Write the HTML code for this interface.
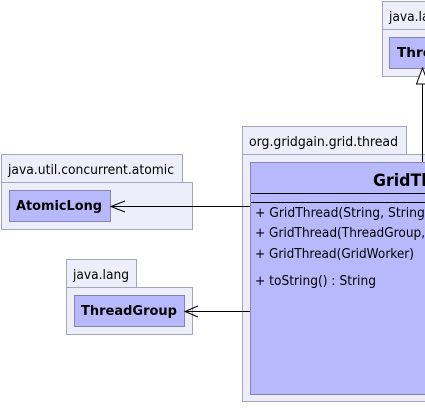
<!DOCTYPE html>
<html><head><style>
body{margin:0;width:425px;height:404px;overflow:hidden;background:#fff;font-family:"DejaVu Sans",sans-serif}
</style></head><body>
<svg width="425" height="404" xmlns="http://www.w3.org/2000/svg" font-family="'DejaVu Sans', sans-serif" font-size="13">
<g fill="#eeeefa" stroke="#a4a4bc" stroke-width="1">
<rect x="382.5" y="1.5" width="60" height="28"/>
<rect x="382.5" y="29.5" width="60" height="47"/>
<rect x="242.5" y="126.5" width="164" height="28"/>
<rect x="242.5" y="154.5" width="200" height="247"/>
<rect x="1.5" y="154.5" width="181" height="28"/>
<rect x="1.5" y="182.5" width="191" height="47"/>
<rect x="66.5" y="259.5" width="70" height="28"/>
<rect x="66.5" y="287.5" width="126" height="47"/>
</g>
<g fill="#b8b8fc" stroke="#8484b4" stroke-width="1">
<rect x="389.5" y="37.5" width="60" height="31"/>
<rect x="250.5" y="162.5" width="200" height="232"/>
<rect x="9.5" y="190.5" width="101" height="31"/>
<rect x="74.5" y="295.5" width="110" height="31"/>
</g>
<g fill="#000">
<text x="389" y="21" textLength="56" lengthAdjust="spacingAndGlyphs">java.lang</text>
<text x="397" y="57" font-weight="bold" textLength="54" lengthAdjust="spacingAndGlyphs">Thread</text>
<text x="249" y="146" textLength="149" lengthAdjust="spacingAndGlyphs">org.gridgain.grid.thread</text>
<text x="8" y="174" textLength="166" lengthAdjust="spacingAndGlyphs">java.util.concurrent.atomic</text>
<text x="16" y="210" font-weight="bold" textLength="86" lengthAdjust="spacingAndGlyphs">AtomicLong</text>
<text x="73" y="279" textLength="56" lengthAdjust="spacingAndGlyphs">java.lang</text>
<text x="81" y="315" font-weight="bold" textLength="96" lengthAdjust="spacingAndGlyphs">ThreadGroup</text>
<text x="373" y="186" font-weight="bold" font-size="17" textLength="100" lengthAdjust="spacingAndGlyphs">GridThread</text>
<text x="255" y="217" textLength="252" lengthAdjust="spacingAndGlyphs">+ GridThread(String, String, GridWorker)</text>
<text x="255" y="237" textLength="215" lengthAdjust="spacingAndGlyphs">+ GridThread(ThreadGroup, String)</text>
<text x="255" y="258" textLength="159" lengthAdjust="spacingAndGlyphs">+ GridThread(GridWorker)</text>
<text x="255" y="285" textLength="121" lengthAdjust="spacingAndGlyphs">+ toString() : String</text>
</g>
<g stroke="#000" stroke-width="1" fill="none">
<line x1="251" y1="193.5" x2="425" y2="193.5"/>
<line x1="251" y1="202.5" x2="425" y2="202.5"/>
<line x1="422.5" y1="84" x2="422.5" y2="162"/>
<path d="M422.5 68 L416.5 84 L428.5 84 Z" fill="#fff"/>
<line x1="111" y1="206.5" x2="250" y2="206.5"/>
<path d="M125 201 L111 206.5 L125 212"/>
<line x1="185" y1="311.5" x2="250" y2="311.5"/>
<path d="M198 306 L185 311.5 L198 317"/>
</g>
</svg>
</body></html>
